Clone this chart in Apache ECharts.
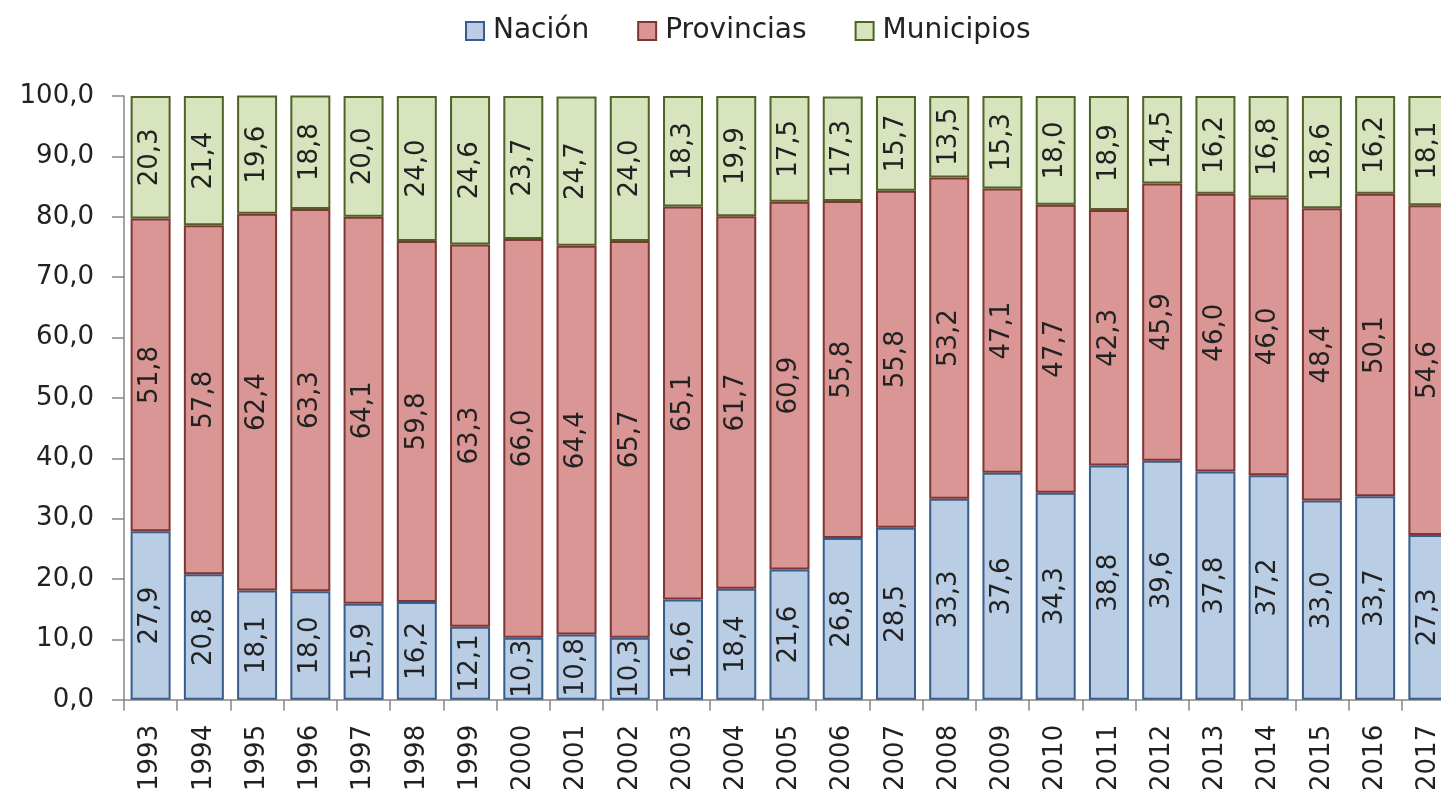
<!DOCTYPE html>
<html>
<head>
<meta charset="utf-8">
<script src="https://cdn.jsdelivr.net/npm/echarts@6/dist/echarts.min.js"></script>
<style>
  html, body { margin: 0; padding: 0; background: #fff; overflow: hidden; }
  #chart { width: 1460px; height: 794px; }
</style>
</head>
<body>
<div id="chart"></div>
<script>
const years = ['1993', '1994', '1995', '1996', '1997', '1998', '1999', '2000', '2001', '2002', '2003', '2004', '2005',
  '2006', '2007', '2008', '2009', '2010', '2011', '2012', '2013', '2014', '2015', '2016', '2017']
const nacion = [27.9, 20.8, 18.1, 18.0, 15.9, 16.2, 12.1, 10.3, 10.8, 10.3, 16.6, 18.4, 21.6,
  26.8, 28.5, 33.3, 37.6, 34.3, 38.8, 39.6, 37.8, 37.2, 33.0, 33.7, 27.3]
const provincias = [51.8, 57.8, 62.4, 63.3, 64.1, 59.8, 63.3, 66.0, 64.4, 65.7, 65.1, 61.7, 60.9,
  55.8, 55.8, 53.2, 47.1, 47.7, 42.3, 45.9, 46.0, 46.0, 48.4, 50.1, 54.6]
const municipios = [20.3, 21.4, 19.6, 18.8, 20.0, 24.0, 24.6, 23.7, 24.7, 24.0, 18.3, 19.9, 17.5,
  17.3, 15.7, 13.5, 15.3, 18.0, 18.9, 14.5, 16.2, 16.8, 18.6, 16.2, 18.1]

const font = 'DejaVu Sans, Verdana, sans-serif'
const fmt = (v) => Number(v).toFixed(1).replace('.', ',')

const makeSeries = (name, data, fill, border) => ({
  name,
  type: 'bar',
  stack: 'total',
  data,
  barWidth: 40,
  itemStyle: { color: fill, borderColor: border, borderWidth: 2 },
  label: {
    show: true,
    position: 'inside',
    rotate: 90,
    formatter: (p) => fmt(p.value),
    fontFamily: font,
    fontSize: 26,
    color: '#222',
  },
})

const chart = echarts.init(document.getElementById('chart'))
chart.setOption({
  animation: false,
  legend: {
    top: 12,
    left: 460,
    itemWidth: 18,
    itemHeight: 18,
    itemGap: 48,
    icon: 'rect',
    textStyle: { fontFamily: font, fontSize: 28, color: '#222', padding: [0, 0, 0, 4] },
  },
  grid: { left: 124, right: 5, top: 96, bottom: 94, containLabel: false },
  xAxis: {
    type: 'category',
    data: years,
    axisLine: { lineStyle: { color: '#868686', width: 1.5 } },
    axisTick: { show: true, length: 11, lineStyle: { color: '#868686', width: 1.5 } },
    axisLabel: { rotate: 90, fontFamily: font, fontSize: 26, color: '#222', margin: 25 },
  },
  yAxis: {
    type: 'value',
    min: 0,
    max: 100,
    interval: 10,
    splitLine: { show: false },
    axisLine: { show: true, lineStyle: { color: '#868686', width: 1.5 } },
    axisTick: { show: true, length: 12, lineStyle: { color: '#868686', width: 1.5 } },
    axisLabel: { formatter: fmt, fontFamily: font, fontSize: 26, color: '#222', margin: 30 },
  },
  series: [
    makeSeries('Nación', nacion, '#b9cde5', '#385d8a'),
    makeSeries('Provincias', provincias, '#d99694', '#7f3532'),
    makeSeries('Municipios', municipios, '#d7e4bd', '#4f6228'),
  ],
})
</script>
</body>
</html>
